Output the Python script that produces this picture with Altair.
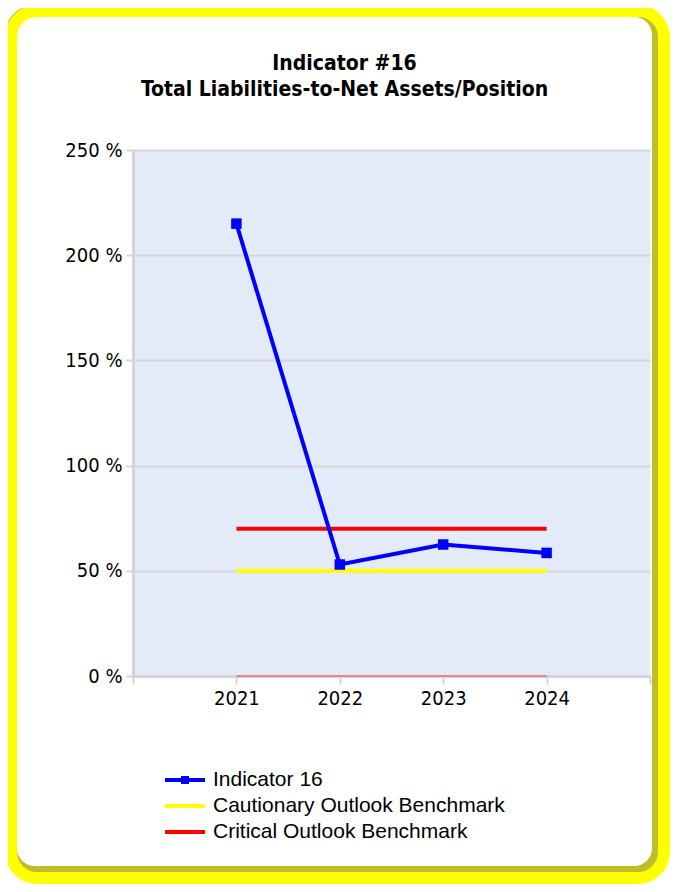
import altair as alt
import pandas as pd

years = [2021, 2022, 2023, 2024]
indicator_16 = [215, 53, 62.5, 58.5]
cautionary = [50, 50, 50, 50]
critical = [70, 70, 70, 70]
baseline_zero = [0, 0, 0, 0]

series_names = ["Indicator 16", "Cautionary Outlook Benchmark", "Critical Outlook Benchmark"]
series_colors = ["#0000ff", "#ffff00", "#ff0000"]
legend_shapes = ["M-2,0H2M-0.2,-0.2H0.2V0.2H-0.2Z", "M-2,0H2", "M-2,0H2"]

rows = []
for name, vals in zip(series_names, [indicator_16, cautionary, critical]):
    for y, v in zip(years, vals):
        rows.append({"year": y, "value": v, "series": name})
df = pd.DataFrame(rows)
zero_df = pd.DataFrame({"year": years, "value": baseline_zero})
frame_df = pd.DataFrame({"a": [0]})

FONT = "DejaVu Sans Condensed"

x_enc = alt.X(
    "year:Q",
    scale=alt.Scale(domain=[2020, 2025], nice=False, zero=False),
    axis=alt.Axis(
        values=[2020, 2021, 2022, 2023, 2024, 2025],
        labelExpr="datum.value >= 2021 && datum.value <= 2024 ? datum.value : ''",
        title=None, grid=False, tickSize=8, tickWidth=2, tickColor="#d4d4d4",
        domainColor="#d4d4d4", domainWidth=3, labelFont=FONT, labelFontSize=20,
        labelColor="black", labelPadding=4,
    ),
)
y_enc = alt.Y(
    "value:Q",
    scale=alt.Scale(domain=[0, 250], nice=False),
    axis=alt.Axis(
        values=[0, 50, 100, 150, 200, 250],
        labelExpr="datum.value + ' %'",
        title=None, grid=True, gridColor="#d6d6d6", gridWidth=2,
        tickSize=7, tickWidth=2, tickColor="#d4d4d4",
        domainColor="#d4d4d4", domainWidth=3, labelFont=FONT, labelFontSize=20,
        labelColor="black", labelPadding=4,
    ),
)

legend = alt.Legend(
    orient="none", legendX=40, legendY=618, title=None,
    symbolSize=400, symbolStrokeWidth=4, symbolOpacity=1,
    labelFont="Liberation Sans", labelFontSize=21, labelColor="black",
    labelOffset=16, labelLimit=500, rowPadding=4,
)

shadow = alt.Chart(frame_df).mark_rect(
    cornerRadius=24, fill="transparent", stroke="#bebe2a", strokeWidth=12
).encode(x=alt.value(-122), x2=alt.value(525), y=alt.value(-139), y2=alt.value(722))

frame = alt.Chart(frame_df).mark_rect(
    cornerRadius=26, fill="transparent", stroke="#ffff00", strokeWidth=12
).encode(x=alt.value(-122), x2=alt.value(531), y=alt.value(-139), y2=alt.value(728))

zero_line = alt.Chart(zero_df).mark_line(color="#f07070", strokeWidth=2, opacity=0.8).encode(
    x=x_enc, y=y_enc
)

def series_line(name, color):
    return alt.Chart(df).transform_filter(alt.datum.series == name).mark_line(
        strokeWidth=4, color=color
    ).encode(x=x_enc, y=y_enc)

caut_line = series_line(series_names[1], series_colors[1])
crit_line = series_line(series_names[2], series_colors[2])
ind_line = series_line(series_names[0], series_colors[0])

ind_pts = alt.Chart(df).transform_filter(alt.datum.series == "Indicator 16").mark_point(
    shape="square", filled=True, size=110, opacity=1, color="#0000ff"
).encode(x=x_enc, y=y_enc)

legend_layer = alt.Chart(df).mark_point(opacity=0, filled=False).encode(
    x=x_enc, y=y_enc,
    color=alt.Color("series:N", scale=alt.Scale(domain=series_names, range=series_colors), legend=legend),
    shape=alt.Shape("series:N", scale=alt.Scale(domain=series_names, range=legend_shapes), legend=legend),
)

chart = alt.layer(shadow, frame, zero_line, caut_line, crit_line, ind_line, ind_pts, legend_layer).properties(
    width=517, height=526,
    autosize=alt.AutoSizeParams(type="none"),
    padding={"left": 125, "top": 142, "right": 20, "bottom": 208},
    background="white",
    title=alt.TitleParams(
        text=["Indicator #16", "Total Liabilities-to-Net Assets/Position"],
        font=FONT, fontSize=21, fontWeight="bold", color="black",
        anchor="middle", frame="group", dx=-47, offset=-95, lineHeight=26,
    ),
).configure_view(fill="#e3ebf9", stroke=None)

chart.save("out.html", embed_options={"renderer": "svg", "actions": False})
